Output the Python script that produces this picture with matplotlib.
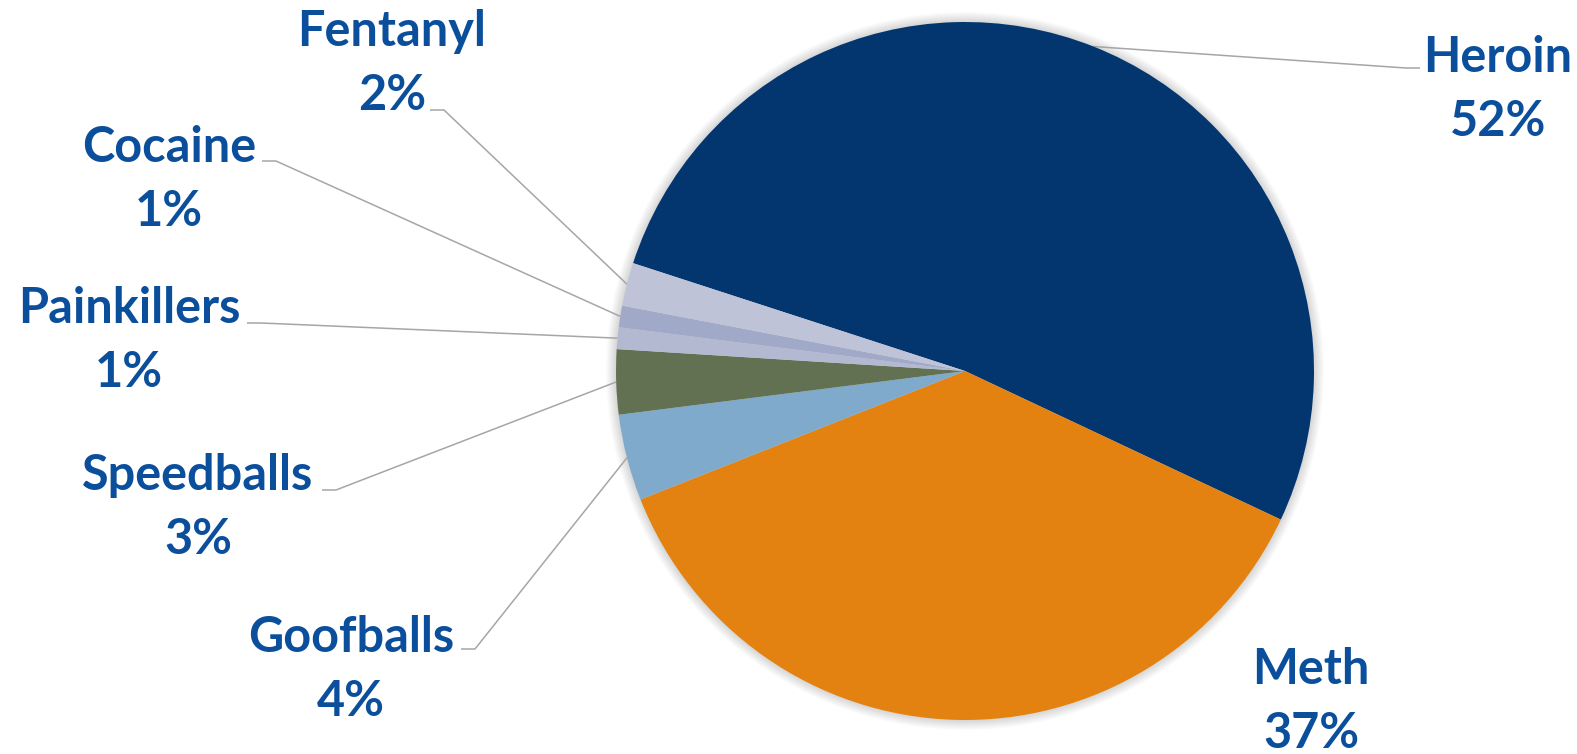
import matplotlib
matplotlib.use("Agg")
import matplotlib.pyplot as plt
from matplotlib.patches import Circle
import numpy as np

# Share of cases by substance
drugs = ["Heroin", "Meth", "Goofballs", "Speedballs", "Painkillers", "Cocaine", "Fentanyl"]
shares = [52, 37, 4, 3, 1, 1, 2]
slice_colors = ["#03366F", "#E38210", "#7FAACC", "#627152", "#B3B9D1", "#A1A9C8", "#BEC3D7"]

# Label layout in pixel space (y measured from top): text centre x, first-line baseline,
# and the near end of each leader line (None = no leader)
label_x = [1498, 1311, 351, 198, 129, 169, 392]
label_base = [72, 684, 652, 490, 323, 162, 46]
leader_start = [(1420, 68, -1), None, (461, 649, 1), (322, 490, 1),
                (247, 323, 1), (262, 161, 1), (430, 110, 1)]

W, H = 1577, 754
TEXT_BLUE = "#0B4F9C"
LINE_GRAY = "#A6A6A6"

fig = plt.figure(figsize=(W / 100, H / 100), dpi=100)
ax = fig.add_axes([0, 0, 1, 1])

cx, cy, R = 965, H - 371, 349

# soft outer shadow around the pie
for k in range(10, 0, -1):
    ax.add_patch(Circle((cx, cy), R + k, facecolor="#000000",
                        alpha=0.014, lw=0, zorder=0))

wedges, _ = ax.pie(shares, colors=slice_colors, startangle=162, counterclock=False,
                   center=(cx, cy), radius=R, frame=True,
                   wedgeprops=dict(linewidth=0, zorder=1))

font = dict(family="Lato", weight="bold", size=35, color=TEXT_BLUE)
line_gap = 64

for w, name, pct, x, base, lead in zip(wedges, drugs, shares, label_x, label_base, leader_start):
    yb = H - base
    ax.text(x, yb, name, ha="center", va="baseline", zorder=3, **font)
    ax.text(x, yb - line_gap, f"{pct}%", ha="center", va="baseline", zorder=3, **font)
    if lead is not None:
        mid = np.deg2rad((w.theta1 + w.theta2) / 2)
        ex, ey = cx + R * np.cos(mid), cy + R * np.sin(mid)
        lx, ly, d = lead
        ly = H - ly
        ax.plot([lx, lx + 14 * d, ex], [ly, ly, ey], color=LINE_GRAY, lw=1.1,
                solid_capstyle="butt", zorder=0.5)

ax.set_xlim(0, W)
ax.set_ylim(0, H)
ax.set_aspect("auto")
ax.axis("off")

fig.savefig("out.png", dpi=100, facecolor="white")
